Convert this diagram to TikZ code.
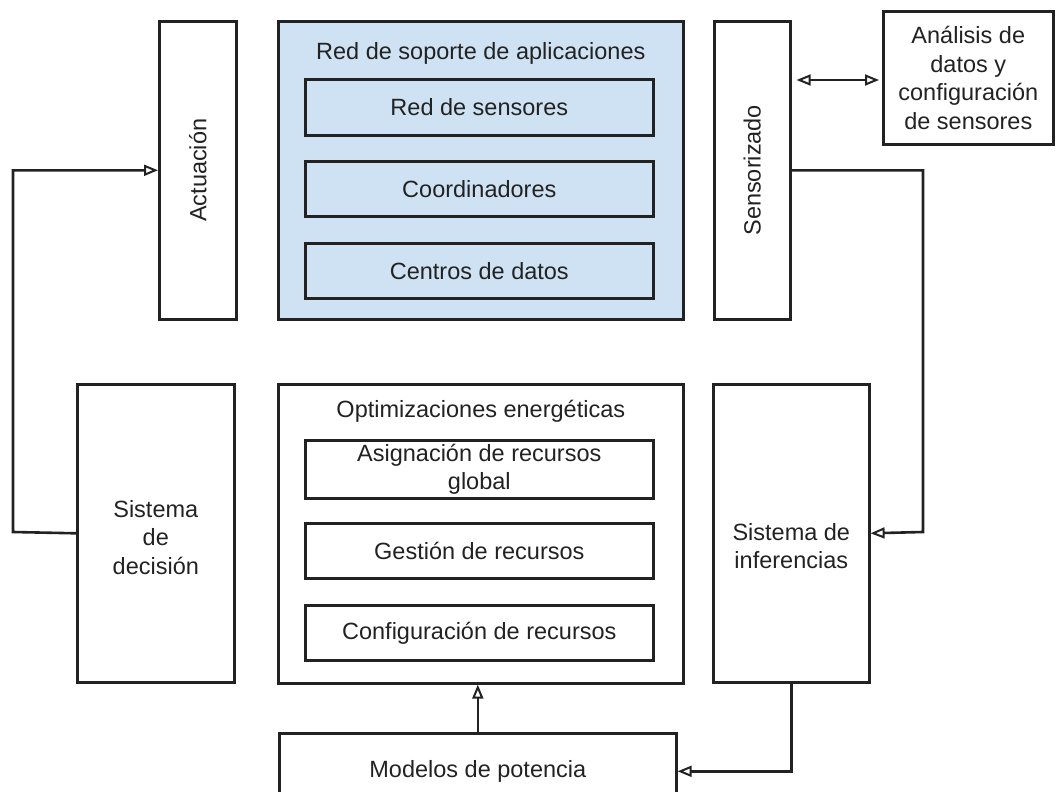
\documentclass[tikz,border=0pt]{standalone}
\usepackage{fontspec}
\setmainfont{Liberation Sans}
\usetikzlibrary{arrows.meta,calc}
\definecolor{lightblue}{HTML}{CFE2F3}
\definecolor{ink}{HTML}{222222}
\begin{document}
\begin{tikzpicture}[x=1pt,y=-1pt,
  every node/.style={font=\fontsize{23.5}{28.5}\selectfont, text=ink},
  box/.style={draw=ink, line width=2.6pt, anchor=north west, inner sep=0pt, align=center},
  bluebox/.style={box, fill=lightblue},
  tip/.tip={Triangle[open,length=14pt,width=11pt,line width=2pt]},
  conn/.style={draw=ink, line width=2.6pt, -tip},
  dconn/.style={draw=ink, line width=2.6pt, tip-tip}
]
\useasboundingbox (0,0) rectangle (1058,792);
\clip (0,0) rectangle (1058,792);
% top row
\node[box, minimum width=77pt, minimum height=298pt] (act) at (158,20) {};
\node[rotate=90] at (act.center) {Actuación};
\node[bluebox, minimum width=405pt, minimum height=298pt] (red) at (277,20) {};
\node (redt) at ($(red.north)+(0,33)$) {Red de soporte de aplicaciones};
\node[bluebox, minimum width=348pt, minimum height=56pt] (rs1) at (304,78) {};
\node at (rs1.center) {Red de sensores};
\node[bluebox, minimum width=348pt, minimum height=55pt] (rs2) at (304,160) {};
\node at (rs2.center) {Coordinadores};
\node[bluebox, minimum width=348pt, minimum height=55pt] (rs3) at (304,242) {};
\node at (rs3.center) {Centros de datos};
\node[box, minimum width=76pt, minimum height=298pt] (sens) at (713,20) {};
\node[rotate=90] at (sens.center) {Sensorizado};
\node[box, minimum width=170pt, minimum height=133pt] (ana) at (882,10) {};
\node[align=center] at (ana.center) {Análisis de\\datos y\\configuración\\de sensores};
% bottom row
\node[box, minimum width=157pt, minimum height=298pt] (dec) at (76,383) {};
\node[align=center] at ($(dec.center)+(0,4)$) {Sistema\\de\\decisión};
\node[box, minimum width=405pt, minimum height=299pt] (opt) at (277,383) {};
\node (optt) at ($(opt.north)+(0,28)$) {Optimizaciones energéticas};
\node[box, minimum width=348pt, minimum height=58pt] (a1) at (304,439) {};
\node[align=center] at (a1.center) {Asignación de recursos\\global};
\node[box, minimum width=348pt, minimum height=55pt] (a2) at (304,522) {};
\node at (a2.center) {Gestión de recursos};
\node[box, minimum width=348pt, minimum height=55pt] (a3) at (304,604) {};
\node at (a3.center) {Configuración de recursos};
\node[box, minimum width=156pt, minimum height=298pt] (inf) at (712,383) {};
\node[align=center] at ($(inf.center)+(0,13)$) {Sistema de\\inferencias};
\node[box, minimum width=397pt, minimum height=76pt] (mod) at (278,732) {};
\node at (mod.center) {Modelos de potencia};
% connectors
\coordinate (lft) at (13,532);
\coordinate (rgt) at (923,532);
\draw[conn] (dec.west) -- (lft) |- (act.west);
\draw[conn] (sens.east) -| (rgt) -- (inf.east);
\draw[dconn, shorten <=5pt, shorten >=3pt] ($(sens.north east)+(0,60)$) -- ($(ana.north west)+(0,70)$);
\draw[conn] (mod.north) -- (mod.north |- opt.south);
\draw[conn] (inf.south) |- (mod.east);
\end{tikzpicture}
\end{document}
